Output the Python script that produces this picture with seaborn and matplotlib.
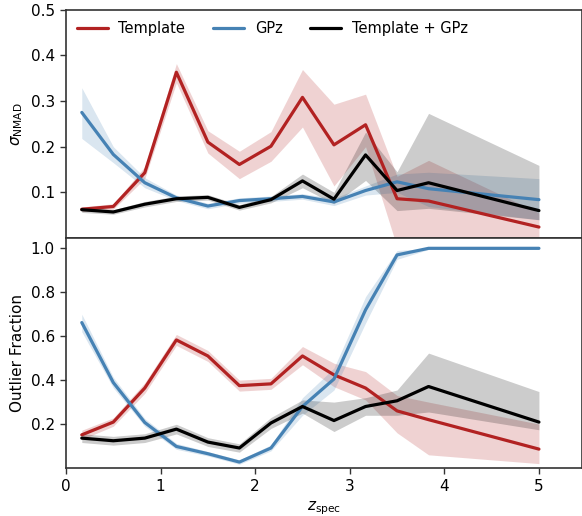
import numpy as np
import pandas as pd
import matplotlib
matplotlib.use("Agg")
import matplotlib.pyplot as plt
import seaborn as sns

sns.set_style("ticks")
plt.rcParams['font.family'] = ['DejaVu Sans']
plt.rcParams['text.color'] = 'black'
plt.rcParams['axes.labelcolor'] = 'black'
plt.rcParams['xtick.color'] = 'black'
plt.rcParams['ytick.color'] = 'black'

z = [0.167, 0.5, 0.833, 1.167, 1.5, 1.833, 2.167, 2.5, 2.833, 3.167, 3.5, 3.833, 5.0]

# sigma_NMAD
sig_tmpl = [0.063, 0.069, 0.143, 0.363, 0.210, 0.161, 0.201, 0.308, 0.204, 0.248, 0.086, 0.081, 0.024]
sig_tmpl_lo = [0.058, 0.063, 0.130, 0.340, 0.186, 0.130, 0.168, 0.243, 0.114, 0.200, -0.02, -0.05, -0.05]
sig_tmpl_hi = [0.068, 0.075, 0.156, 0.382, 0.235, 0.190, 0.233, 0.369, 0.293, 0.315, 0.135, 0.170, 0.055]

sig_gpz = [0.275, 0.183, 0.121, 0.088, 0.070, 0.082, 0.086, 0.091, 0.079, 0.104, 0.123, 0.108, 0.084]
sig_gpz_lo = [0.218, 0.165, 0.110, 0.082, 0.064, 0.076, 0.080, 0.085, 0.071, 0.094, 0.100, 0.069, 0.040]
sig_gpz_hi = [0.329, 0.200, 0.132, 0.094, 0.076, 0.088, 0.092, 0.097, 0.087, 0.114, 0.140, 0.144, 0.130]

sig_comb = [0.062, 0.057, 0.074, 0.086, 0.089, 0.067, 0.084, 0.125, 0.085, 0.182, 0.104, 0.121, 0.060]
sig_comb_lo = [0.056, 0.052, 0.068, 0.080, 0.083, 0.061, 0.077, 0.110, 0.075, 0.126, 0.060, 0.065, 0.040]
sig_comb_hi = [0.068, 0.062, 0.080, 0.092, 0.095, 0.073, 0.091, 0.140, 0.100, 0.232, 0.145, 0.273, 0.159]

# outlier fraction
out_tmpl = [0.151, 0.209, 0.364, 0.583, 0.510, 0.375, 0.383, 0.510, 0.424, 0.364, 0.260, 0.220, 0.086]
out_tmpl_lo = [0.130, 0.190, 0.340, 0.558, 0.485, 0.350, 0.358, 0.470, 0.370, 0.310, 0.160, 0.060, 0.020]
out_tmpl_hi = [0.172, 0.228, 0.388, 0.608, 0.535, 0.400, 0.408, 0.553, 0.477, 0.439, 0.330, 0.300, 0.200]

out_gpz = [0.662, 0.389, 0.207, 0.098, 0.065, 0.027, 0.091, 0.280, 0.405, 0.720, 0.970, 1.000, 1.000]
out_gpz_lo = [0.620, 0.365, 0.190, 0.085, 0.055, 0.017, 0.078, 0.240, 0.355, 0.660, 0.950, 0.995, 0.995]
out_gpz_hi = [0.700, 0.413, 0.225, 0.112, 0.075, 0.037, 0.105, 0.320, 0.455, 0.780, 0.990, 1.000, 1.000]

out_comb = [0.136, 0.124, 0.136, 0.177, 0.118, 0.091, 0.205, 0.280, 0.216, 0.280, 0.306, 0.371, 0.209]
out_comb_lo = [0.116, 0.104, 0.116, 0.155, 0.098, 0.072, 0.180, 0.250, 0.166, 0.240, 0.240, 0.255, 0.174]
out_comb_hi = [0.156, 0.144, 0.156, 0.199, 0.138, 0.110, 0.230, 0.310, 0.300, 0.320, 0.355, 0.523, 0.348]

labels = ["Template", "GPz", "Template + GPz"]
colors = ["#b22222", "#4682b4", "black"]

fig = plt.figure(figsize=(5.82, 5.16), dpi=100)
W = 5.82 * 100
H = 5.16 * 100
left = 66 / W
width = (581.5 - 66) / W
ax1 = fig.add_axes([left, (H - 238) / H, width, (238 - 9.7) / H])
ax2 = fig.add_axes([left, (H - 468) / H, width, (468 - 238) / H])

top_sets = [(sig_tmpl, sig_tmpl_lo, sig_tmpl_hi), (sig_gpz, sig_gpz_lo, sig_gpz_hi),
            (sig_comb, sig_comb_lo, sig_comb_hi)]
bot_sets = [(out_tmpl, out_tmpl_lo, out_tmpl_hi), (out_gpz, out_gpz_lo, out_gpz_hi),
            (out_comb, out_comb_lo, out_comb_hi)]

for ax, sets in [(ax1, top_sets), (ax2, bot_sets)]:
    for (y, lo, hi), lab, c in zip(sets, labels, colors):
        ax.fill_between(z, lo, hi, color=c, alpha=0.2, linewidth=0)
        df = pd.DataFrame({"z": z, "v": y})
        sns.lineplot(data=df, x="z", y="v", ax=ax, color=c, linewidth=2.3, label=lab)

ax1.set_xlim(0, 5.45)
ax2.set_xlim(0, 5.45)
ax1.set_ylim(0, 0.5)
ax2.set_ylim(0.0, 1.047)
ax1.set_yticks([0.1, 0.2, 0.3, 0.4, 0.5])
ax2.set_yticks([0.2, 0.4, 0.6, 0.8, 1.0])
ax2.set_xticks([0, 1, 2, 3, 4, 5])
ax1.tick_params(axis='x', bottom=False, labelbottom=False)
ax1.set_xlabel("")
ax1.set_ylabel(r"$\sigma_{\rm NMAD}$", fontsize=11)
ax2.set_ylabel("Outlier Fraction", fontsize=11)
ax2.set_xlabel(r"$z_{\rm spec}$", fontsize=11)

for ax in (ax1, ax2):
    ax.tick_params(labelsize=11, direction='out', length=4.5, width=1, color='#333333')
    for s in ax.spines.values():
        s.set_visible(True)
        s.set_color('#333333')
        s.set_linewidth(1.2)

ax2.get_legend().remove()
ax1.legend(loc='upper left', ncol=3, frameon=False, fontsize=10.5,
           handlelength=2.1, handletextpad=0.75, columnspacing=1.9, borderaxespad=0.35)

fig.savefig("out.png", dpi=100)
